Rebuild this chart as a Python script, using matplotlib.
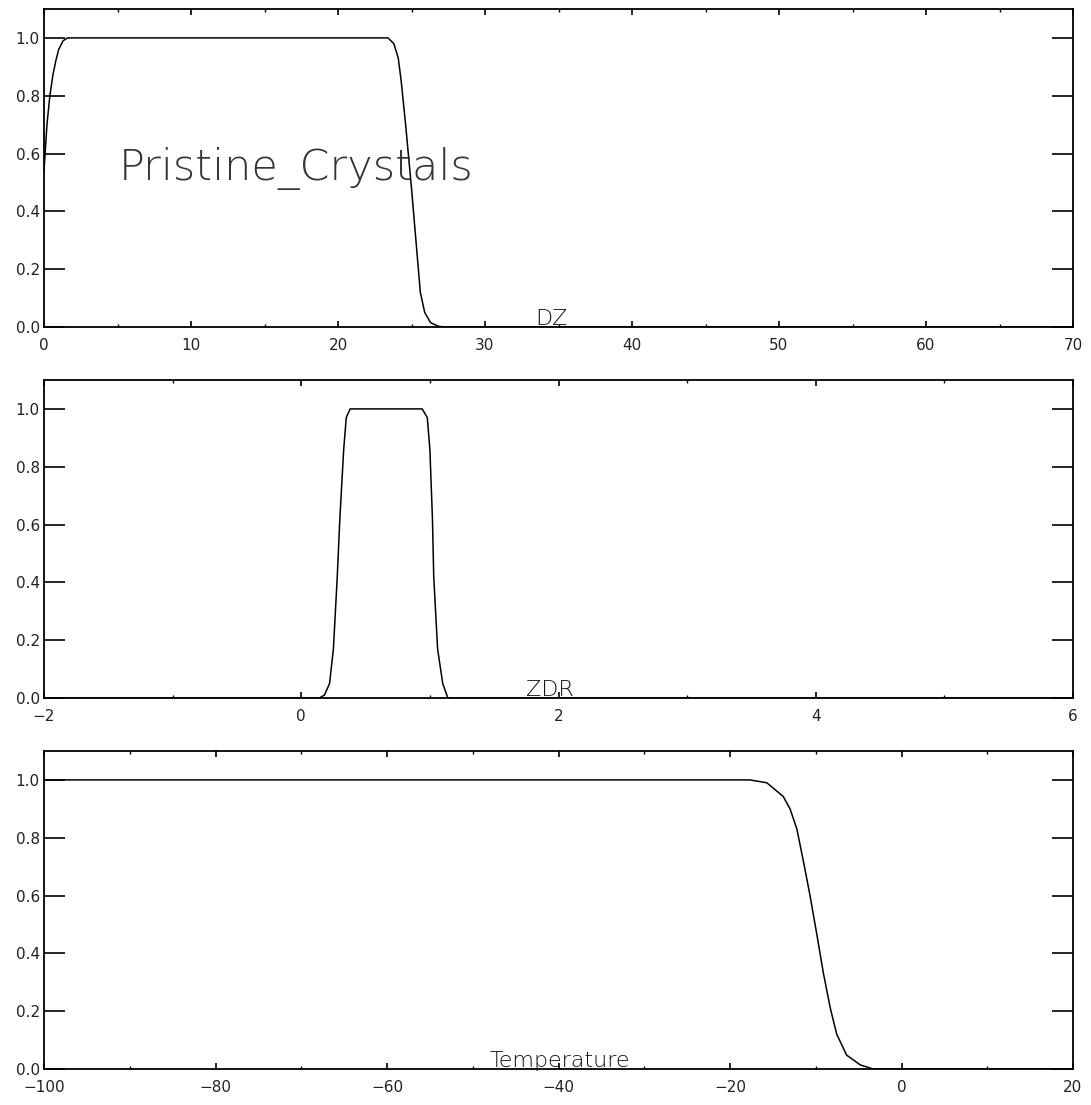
import matplotlib
matplotlib.use("Agg")
import matplotlib.pyplot as plt
from matplotlib.ticker import MultipleLocator, FormatStrFormatter

# ---- data ----
dz_x = [0.0, 0.1, 0.2, 0.4, 0.6, 0.8, 1.0, 1.3, 1.6, 23.0, 23.4, 23.8, 24.1, 24.3,
        24.6, 25.0, 25.3, 25.6, 25.9, 26.3, 26.8, 27.2, 70.0]
dz_y = [0.54, 0.62, 0.70, 0.80, 0.87, 0.92, 0.96, 0.99, 1.0, 1.0, 1.0, 0.98, 0.93, 0.85,
        0.70, 0.48, 0.30, 0.12, 0.05, 0.015, 0.003, 0.0, 0.0]

zdr_x = [-2.0, 0.14, 0.18, 0.22, 0.25, 0.28, 0.30, 0.33, 0.35, 0.38, 0.94, 0.98,
         1.00, 1.02, 1.03, 1.06, 1.10, 1.14, 6.0]
zdr_y = [0.0, 0.0, 0.01, 0.05, 0.17, 0.42, 0.62, 0.86, 0.97, 1.0, 1.0, 0.97,
         0.86, 0.62, 0.42, 0.17, 0.05, 0.0, 0.0]

t_x = [-100.0, -17.7, -15.7, -13.8, -13.0, -12.2, -11.45, -10.7, -9.9, -9.1, -8.3,
       -7.55, -6.4, -4.8, -3.3, 20.0]
t_y = [1.0, 1.0, 0.99, 0.943, 0.90, 0.83, 0.72, 0.605, 0.47, 0.33, 0.21,
       0.12, 0.048, 0.014, 0.0, 0.0]

panels = [
    dict(x=dz_x, y=dz_y, xlim=(0, 70), major=10, minor=5, title="DZ", tx=0.493),
    dict(x=zdr_x, y=zdr_y, xlim=(-2, 6), major=2, minor=1, title="ZDR", tx=0.492),
    dict(x=t_x, y=t_y, xlim=(-100, 20), major=20, minor=10, title="Temperature", tx=0.501),
]
yticks = [0.0, 0.2, 0.4, 0.6, 0.8, 1.0]
class_label = "Pristine_Crystals"

W, H = 1091, 1105
fig = plt.figure(figsize=(W / 100, H / 100), dpi=100)
fig.patch.set_facecolor("white")

left = 44 / W
width = (1073 - 44) / W
bottoms = [1 - 327 / H, 1 - 698 / H, 1 - 1069 / H]
height = 318 / H

for p, b in zip(panels, bottoms):
    ax = fig.add_axes([left, b, width, height])
    ax.plot(p["x"], p["y"], color="black", lw=1.1)
    ax.set_xlim(*p["xlim"])
    ax.set_ylim(0, 1.1)
    ax.xaxis.set_major_locator(MultipleLocator(p["major"]))
    ax.xaxis.set_minor_locator(MultipleLocator(p["minor"]))
    ax.set_yticks(yticks)
    ax.yaxis.set_major_formatter(FormatStrFormatter("%.1f"))
    ax.tick_params(axis="x", which="major", direction="in", length=4, width=1.2,
                   top=True, bottom=True, labelsize=11, pad=8)
    ax.tick_params(axis="x", which="minor", direction="in", length=2.5, width=1.0,
                   top=True, bottom=True)
    ax.tick_params(axis="y", which="major", direction="in", length=15, width=1.2,
                   left=True, right=True, labelsize=11, pad=3)
    for s in ax.spines.values():
        s.set_linewidth(1.3)
    for lab in ax.get_xticklabels() + ax.get_yticklabels():
        lab.set_color("#222222")
    ax.text(p["tx"], -0.005, p["title"], transform=ax.transAxes, ha="center",
            va="bottom", fontsize=16, family="DejaVu Sans", fontweight="light",
            color="#111111")
    if p["title"] == "DZ":
        ax.text(5.1, 0.55, class_label, ha="left", va="center", fontsize=31,
                family="DejaVu Sans", fontweight="light", color="#333333")

fig.savefig("out.png", dpi=100, facecolor="white")
